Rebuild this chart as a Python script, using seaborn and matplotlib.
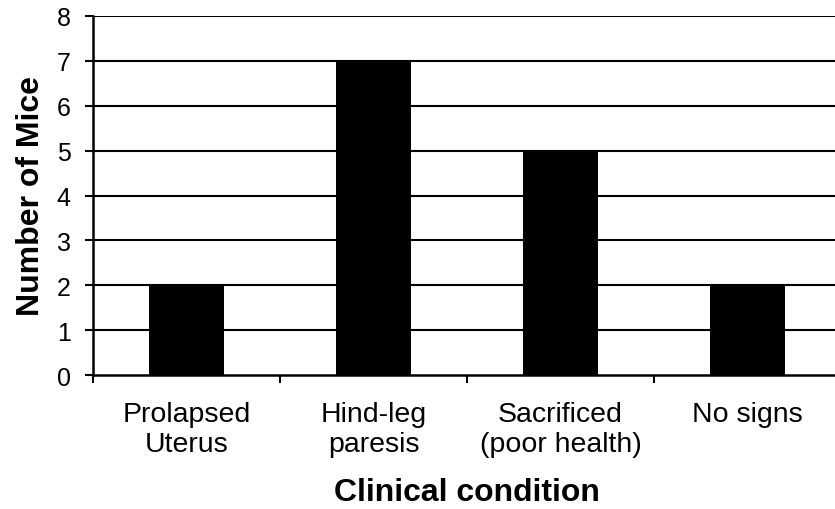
import numpy as np
import pandas as pd
import seaborn as sb
import matplotlib
matplotlib.use("Agg")
import matplotlib.pyplot as plt

# clinical outcome counts
conditions = ["Prolapsed\nUterus", "Hind-leg\nparesis", "Sacrificed\n(poor health)", "No signs"]
mice_counts = [2, 7, 5, 2]
y_ticks = [0, 1, 2, 3, 4, 5, 6, 7, 8]

data = pd.DataFrame({"condition": conditions, "count": mice_counts})

sb.set_style("white")
plt.rcParams["font.family"] = ["Liberation Sans", "DejaVu Sans"]
plt.rcParams["text.color"] = "black"
plt.rcParams["axes.labelcolor"] = "black"
plt.rcParams["xtick.color"] = "black"
plt.rcParams["ytick.color"] = "black"

fig = plt.figure(figsize=(8.35, 5.1), dpi=100)
ax = fig.add_axes([93 / 835, 1 - 376 / 510, 748 / 835, 359 / 510])

# horizontal gridlines behind the bars
for y in y_ticks[1:]:
    ax.axhline(y, color="black", lw=1.5, zorder=0)

sb.barplot(data=data, x="condition", y="count", color="black", width=0.4,
           saturation=1, ax=ax, zorder=2)
for p in ax.patches:
    p.set_edgecolor("none")

ax.set_xlim(-0.5, 3.5)
ax.set_ylim(0, 8)
ax.set_yticks(y_ticks)

# category ticks sit on the boundaries, labels in between
ax.set_xticks(np.arange(len(conditions)))
ax.set_xticklabels(conditions, fontsize=20.5, linespacing=1.2)
ax.set_xticks(np.arange(len(conditions) + 1) - 0.5, minor=True)
ax.tick_params(axis="x", which="major", length=0, pad=19)
ax.tick_params(axis="x", which="minor", length=6, width=1.5, direction="out", color="black", bottom=True)
ax.tick_params(axis="y", length=6, width=1.5, direction="out", color="black", left=True,
               labelsize=18, pad=10)

for side in ["top", "right"]:
    ax.spines[side].set_visible(False)
for side in ["left", "bottom"]:
    ax.spines[side].set_color("black")
    ax.spines[side].set_linewidth(1.8)
    ax.spines[side].set_zorder(3)

ax.set_xlabel("Clinical condition", fontsize=23, fontweight="bold", labelpad=14)
ax.set_ylabel("Number of Mice", fontsize=23, fontweight="bold", labelpad=8)

fig.savefig("out.png", dpi=100, facecolor="white")
